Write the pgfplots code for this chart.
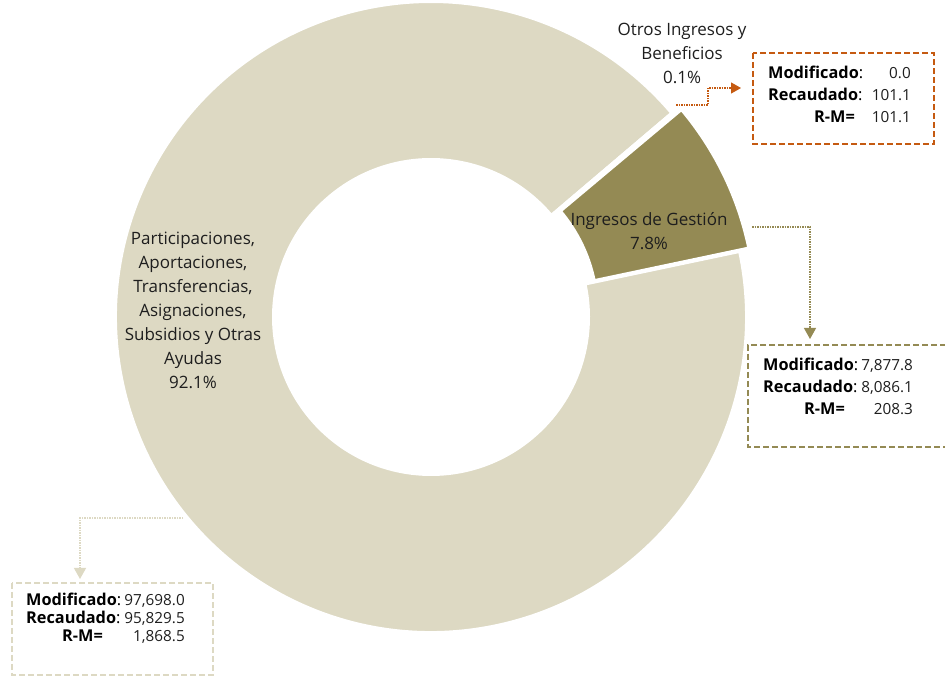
\documentclass[border=0pt]{standalone}
\usepackage{pgfplots}
\pgfplotsset{compat=1.18}
\usepackage{pgfplotstable}
\usepackage{fontspec}
\setmainfont{Open Sans}
\usetikzlibrary{calc,arrows.meta}

\definecolor{beige}{HTML}{DDD9C3}
\definecolor{olive}{HTML}{948A54}
\definecolor{naranja}{HTML}{C55A11}
\definecolor{texto}{HTML}{1E1E1E}

% shares in percent, clockwise from the lower edge of Ingresos de Gestion
\pgfplotstableread{
name pct
Participaciones 92.1
Otros 0.1
Gestion 7.8
}\shares

\newcommand\labfont{\fontsize{17bp}{24bp}\selectfont}
\newcommand\boxfont{\fontsize{16.3bp}{20bp}\selectfont\bfseries}
\newcommand\numfont{\fontsize{15.3bp}{20bp}\selectfont}
\def\Ro{315bp}
\def\Ri{158bp}

% one ring sector: centre, start angle, end angle, colour
\newcommand\sector[4]{%
  \fill[#4, draw=white, line width=2bp]
    ($#1+(#2:\Ro)$) arc[start angle=#2, end angle=#3, radius=\Ro]
    -- ($#1+(#3:\Ri)$) arc[start angle=#3, end angle=#2, radius=\Ri] -- cycle;}

\tikzset{lab/.style={anchor=base west, inner sep=0pt, font=\boxfont, text=black},
  rlab/.style={anchor=base east, inner sep=0pt, font=\boxfont, text=black},
  num/.style={anchor=base east, inner sep=0pt, font=\numfont, text=texto}}

\begin{document}
\begin{tikzpicture}
\pgfplotstablegetelem{0}{pct}\of\shares \let\pA\pgfplotsretval
\pgfplotstablegetelem{1}{pct}\of\shares \let\pB\pgfplotsretval
\pgfplotstablegetelem{2}{pct}\of\shares \let\pC\pgfplotsretval
\pgfmathsetmacro{\aA}{11.9}
\pgfmathsetmacro{\aB}{\aA-3.6*\pA}
\pgfmathsetmacro{\aC}{\aB-3.6*\pB}
\pgfmathsetmacro{\aD}{\aC-3.6*\pC}
\pgfmathsetmacro{\aM}{(\aC+\aD)/2}
\begin{axis}[
  scale only axis, width=945bp, height=680bp,
  xmin=0, xmax=945, ymin=0, ymax=680, y dir=reverse,
  hide axis, clip=false]

\coordinate (bl) at (axis cs:0,680);
\coordinate (tr) at (axis cs:945,0);

% ring
\sector{(axis cs:431,317)}{\aA}{\aB}{beige}
\sector{(axis cs:431,317)}{\aB}{\aC}{white}
\sector{($(axis cs:431,317)+(\aM:10bp)$)}{\aC}{\aD}{olive}

% slice labels
\node[align=center, font=\labfont, text=texto] at (axis cs:682,53.5)
  {Otros Ingresos y\\Beneficios\\0.1\%};
\node[align=center, font=\labfont, text=texto] at (axis cs:649,231)
  {Ingresos de Gestión\\7.8\%};
\node[align=center, font=\labfont, text=texto] at (axis cs:193,310)
  {Participaciones,\\Aportaciones,\\Transferencias,\\Asignaciones,\\Subsidios y Otras\\Ayudas\\92.1\%};

% leader lines
\draw[naranja, line width=1.2bp, dash pattern=on 1.5bp off 1bp,
  -{Triangle[length=10bp,width=11bp]}]
  (axis cs:676,105) -- (axis cs:708,105) -- (axis cs:708,88) -- (axis cs:741,88);
\draw[olive, line width=1.2bp, dash pattern=on 1.5bp off 1bp,
  -{Triangle[length=11bp,width=12bp]}]
  (axis cs:752,227) -- (axis cs:810,227) -- (axis cs:810,339);
\draw[beige, line width=1.2bp, dash pattern=on 1.5bp off 1bp,
  -{Triangle[length=11bp,width=12bp]}]
  (axis cs:183,518) -- (axis cs:80,518) -- (axis cs:80,579);

% boxes
\draw[naranja, line width=1.8bp, dash pattern=on 6bp off 3bp]
  (axis cs:753,53) rectangle (axis cs:934,144);
\draw[olive, line width=1.8bp, dash pattern=on 6bp off 3bp]
  (axis cs:946,345) -- (axis cs:748,345) -- (axis cs:748,447) -- (axis cs:946,447);
\draw[beige, line width=1.8bp, dash pattern=on 6bp off 3bp]
  (axis cs:12,583) rectangle (axis cs:213,675);

% Otros Ingresos y Beneficios
\node[lab] at (axis cs:768,79) {Modificado\mdseries:};
\node[lab] at (axis cs:768,101) {Recaudado\mdseries:};
\node[rlab] at (axis cs:855,123) {R-M=};
\node[num] at (axis cs:911,79) {0.0};
\node[num] at (axis cs:911,101) {101.1};
\node[num] at (axis cs:911,123) {101.1};

% Ingresos de Gestion
\node[lab] at (axis cs:763,371) {Modificado\mdseries:};
\node[lab] at (axis cs:763,393) {Recaudado\mdseries:};
\node[rlab] at (axis cs:845,415) {R-M=};
\node[num] at (axis cs:913,371) {7,877.8};
\node[num] at (axis cs:913,393) {8,086.1};
\node[num] at (axis cs:913,415) {208.3};

% Participaciones
\node[lab] at (axis cs:26,606) {Modificado\mdseries:};
\node[lab] at (axis cs:26,624) {Recaudado\mdseries:};
\node[rlab] at (axis cs:103,642) {R-M=};
\node[num] at (axis cs:185,606) {97,698.0};
\node[num] at (axis cs:185,624) {95,829.5};
\node[num] at (axis cs:185,642) {1,868.5};
\end{axis}
\pgfresetboundingbox
\useasboundingbox (bl) rectangle (tr);
\end{tikzpicture}
\end{document}
